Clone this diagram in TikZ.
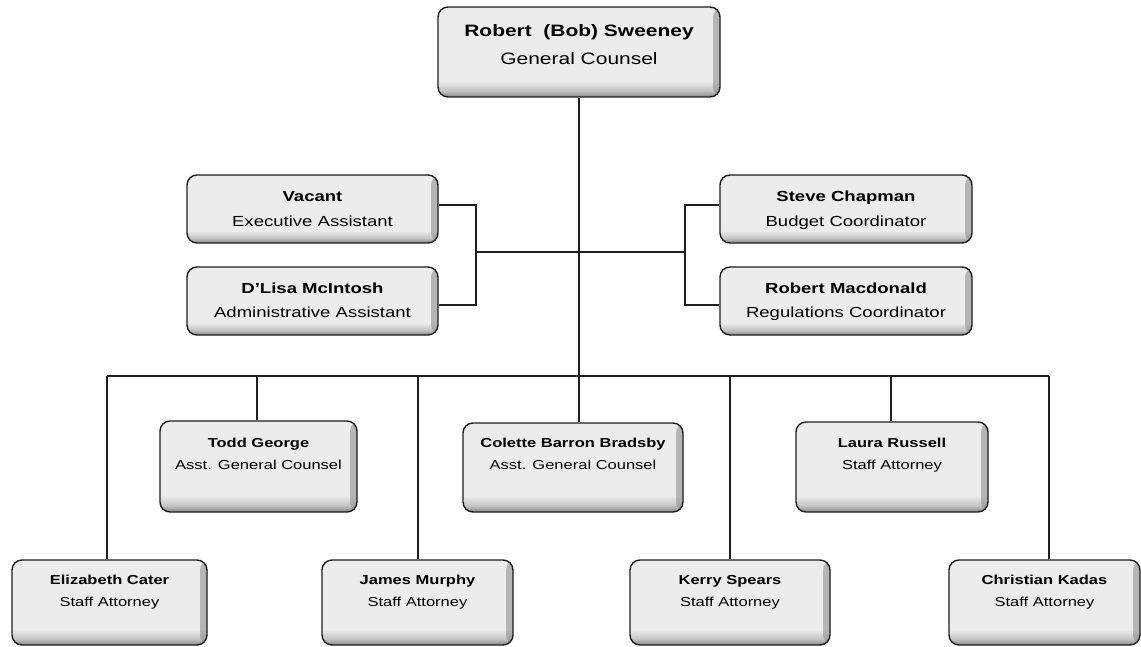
\documentclass[tikz,border=0pt]{standalone}
\usepackage{fontspec}
\setmainfont{Liberation Sans}[FakeStretch=1.27]
\definecolor{sh0}{RGB}{135,135,135}
\definecolor{sh1}{RGB}{195,195,195}
\definecolor{sh2}{RGB}{236,236,236}
\definecolor{lnc}{RGB}{30,30,30}
\pgfdeclareverticalshading{boxsh}{100bp}{color(0bp)=(sh0); color(25bp)=(sh0); color(28.5bp)=(sh1); color(34bp)=(sh2); color(100bp)=(sh2)}
\begin{document}
\begin{tikzpicture}[x=1pt,y=-1pt,
  box/.style={draw=lnc, line width=1.4pt, rounded corners=10pt, shading=boxsh, inner sep=0pt,
    path picture={\shade[left color=sh2, right color=sh0, opacity=0.55]
      ([xshift=-7pt]path picture bounding box.north east) rectangle (path picture bounding box.south east);}},
  conn/.style={draw=lnc, line width=1.3pt},
  txt/.style={anchor=base, inner sep=0pt},
  nmA/.style={txt, font=\fontsize{16.5}{18}\selectfont\bfseries},
  tlA/.style={txt, font=\fontsize{16.5}{18}\selectfont},
  nmB/.style={txt, font=\fontsize{14.6}{16}\selectfont\bfseries},
  tlB/.style={txt, font=\fontsize{14.6}{16}\selectfont},
  nmC/.style={txt, font=\fontsize{13}{15}\selectfont\bfseries},
  tlC/.style={txt, font=\fontsize{13}{15}\selectfont}]
\useasboundingbox (0,0) rectangle (1141,647);

% boxes
\node[box, minimum width=282, minimum height=90] (gc) at (579,52) {};
\node[box, minimum width=251, minimum height=68] (vac) at (312.5,209) {};
\node[box, minimum width=251, minimum height=68] (dl) at (312.5,301) {};
\node[box, minimum width=252, minimum height=68] (sc) at (846,209) {};
\node[box, minimum width=252, minimum height=68] (rm) at (846,301) {};
\node[box, minimum width=197, minimum height=91] (tg) at (258.5,466.5) {};
\node[box, minimum width=220, minimum height=89] (cb) at (573,467.5) {};
\node[box, minimum width=192, minimum height=90] (lr) at (892,467) {};
\node[box, minimum width=195, minimum height=85] (ec) at (109.5,602.5) {};
\node[box, minimum width=191, minimum height=85] (jm) at (417.5,602.5) {};
\node[box, minimum width=200, minimum height=85] (ks) at (730,602.5) {};
\node[box, minimum width=191, minimum height=85] (ck) at (1044.5,602.5) {};

% texts
\node[nmA] (gc-n) at ([yshift=-30pt]gc.north) {Robert\ \ (Bob) Sweeney};
\node[tlA] (gc-t) at ([yshift=-58pt]gc.north) {General Counsel};
\node[nmB] (vac-n) at ([yshift=-27pt]vac.north) {Vacant};
\node[tlB] (vac-t) at ([yshift=-52pt]vac.north) {Executive Assistant};
\node[nmB] (dl-n) at ([yshift=-27pt]dl.north) {D’Lisa McIntosh};
\node[tlB] (dl-t) at ([yshift=-51pt]dl.north) {Administrative Assistant};
\node[nmB] (sc-n) at ([yshift=-27pt]sc.north) {Steve Chapman};
\node[tlB] (sc-t) at ([yshift=-52pt]sc.north) {Budget Coordinator};
\node[nmB] (rm-n) at ([yshift=-27pt]rm.north) {Robert Macdonald};
\node[tlB] (rm-t) at ([yshift=-51pt]rm.north) {Regulations Coordinator};
\node[nmC] (tg-n) at ([yshift=-27pt]tg.north) {Todd George};
\node[tlC] (tg-t) at ([yshift=-49pt]tg.north) {Asst. General Counsel};
\node[nmC] (cb-n) at ([yshift=-25pt]cb.north) {Colette Barron Bradsby};
\node[tlC] (cb-t) at ([yshift=-47pt]cb.north) {Asst. General Counsel};
\node[nmC] (lr-n) at ([yshift=-26pt]lr.north) {Laura Russell};
\node[tlC] (lr-t) at ([yshift=-48pt]lr.north) {Staff Attorney};
\node[nmC] (ec-n) at ([yshift=-25pt]ec.north) {Elizabeth Cater};
\node[tlC] (ec-t) at ([yshift=-47pt]ec.north) {Staff Attorney};
\node[nmC] (jm-n) at ([yshift=-25pt]jm.north) {James Murphy};
\node[tlC] (jm-t) at ([yshift=-47pt]jm.north) {Staff Attorney};
\node[nmC] (ks-n) at ([yshift=-25pt]ks.north) {Kerry Spears};
\node[tlC] (ks-t) at ([yshift=-47pt]ks.north) {Staff Attorney};
\node[nmC] (ck-n) at ([yshift=-25pt]ck.north) {Christian Kadas};
\node[tlC] (ck-t) at ([yshift=-47pt]ck.north) {Staff Attorney};

% connector coordinates
\coordinate (ml) at (476,252);
\coordinate (mr) at (685,252);
\coordinate (bar) at (579,376);

% main trunk
\draw[conn] (gc.south) -- (gc.south |- cb.north);
% assistants
\draw[conn] ([yshift=4pt]vac.east) -| (ml) |- ([yshift=-4pt]dl.east);
\draw[conn] ([yshift=4pt]sc.west) -| (mr) |- ([yshift=-4pt]rm.west);
\draw[conn] (ml) -- (mr);
% bus
\draw[conn] ([xshift=-2.5pt]ec.north |- bar) -- ([xshift=4.5pt]ck.north |- bar);
\draw[conn] ([xshift=-2.5pt]ec.north) -- ([xshift=-2.5pt]ec.north |- bar);
\draw[conn] ([xshift=-1.5pt]tg.north) -- ([xshift=-1.5pt]tg.north |- bar);
\draw[conn] ([xshift=0.5pt]jm.north) -- ([xshift=0.5pt]jm.north |- bar);
\draw[conn] (ks.north) -- (ks.north |- bar);
\draw[conn] ([xshift=-1pt]lr.north) -- ([xshift=-1pt]lr.north |- bar);
\draw[conn] ([xshift=4.5pt]ck.north) -- ([xshift=4.5pt]ck.north |- bar);
\end{tikzpicture}
\end{document}
